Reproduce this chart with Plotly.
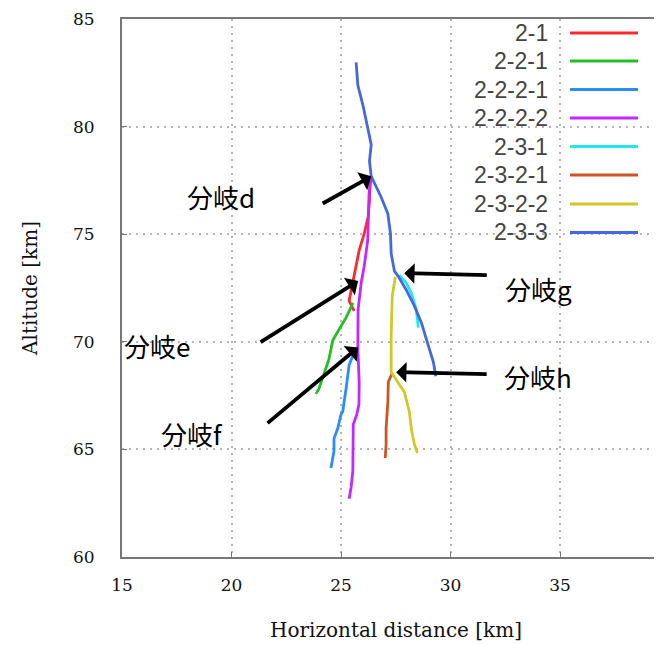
import plotly.graph_objects as go

# ---------------- data (km) ----------------
names = ["2-1", "2-2-1", "2-2-2-1", "2-2-2-2", "2-3-1", "2-3-2-1", "2-3-2-2", "2-3-3"]
colors = ["#ff2a2a", "#22c022", "#2a8cff", "#c428ff", "#22e8ee", "#cc5522", "#d2c826", "#4468dd"]

x_2_1 = [26.33, 26.30, 26.24, 26.06, 25.83, 25.69, 25.58, 25.46, 25.37, 25.60]
y_2_1 = [77.51, 76.56, 75.81, 75.03, 74.25, 73.51, 72.87, 72.27, 71.90, 71.44]

x_2_2_1 = [25.55, 25.23, 24.91, 24.62, 24.45, 24.22, 23.99, 23.85]
y_2_2_1 = [71.81, 71.12, 70.57, 70.06, 69.19, 68.46, 67.81, 67.58]

x_2_2_2_1 = [25.69, 25.37, 25.23, 25.08, 25.00, 24.85, 24.68, 24.68, 24.54]
y_2_2_2_1 = [69.74, 68.92, 67.81, 66.76, 66.62, 65.97, 65.51, 64.92, 64.14]

x_2_2_2_2 = [26.38, 26.28, 26.22, 26.06, 25.92, 25.83, 25.78, 25.77, 25.83, 25.82,
             25.72, 25.56, 25.54, 25.54, 25.46, 25.37]
y_2_2_2_2 = [77.69, 76.87, 74.72, 73.51, 72.73, 71.95, 71.49, 69.65, 68.13, 67.10,
             66.62, 66.16, 64.92, 64.00, 63.22, 62.71]

x_2_3_1 = [27.66, 27.98, 28.21, 28.44, 28.53]
y_2_3_1 = [73.10, 72.73, 72.27, 71.49, 70.66]

x_2_3_2_1 = [27.34, 27.16, 27.14, 27.06, 27.06, 27.02]
y_2_3_2_1 = [68.55, 68.13, 67.22, 65.97, 65.24, 64.60]

x_2_3_2_2 = [27.48, 27.34, 27.29, 27.29, 27.89, 28.12, 28.21, 28.35, 28.49]
y_2_3_2_2 = [73.01, 72.13, 70.29, 68.59, 67.67, 66.76, 65.97, 65.24, 64.83]

x_2_3_3 = [25.69, 25.77, 26.00, 26.22, 26.38, 26.30, 26.34, 26.38, 26.83, 27.14,
           27.26, 27.29, 27.44, 27.61, 27.98, 28.35, 28.67, 28.99, 29.22, 29.33]
y_2_3_3 = [82.98, 81.92, 81.00, 80.00, 79.16, 78.40, 77.78, 77.69, 76.73, 75.95,
           75.03, 74.11, 73.28, 73.05, 72.41, 71.67, 70.89, 69.83, 69.05, 68.40]

series_x = [x_2_1, x_2_2_1, x_2_2_2_1, x_2_2_2_2, x_2_3_1, x_2_3_2_1, x_2_3_2_2, x_2_3_3]
series_y = [y_2_1, y_2_2_1, y_2_2_2_1, y_2_2_2_2, y_2_3_1, y_2_3_2_1, y_2_3_2_2, y_2_3_3]

# branch points (arrow heads) and labels
branch_labels = ["分岐d", "分岐e", "分岐f", "分岐g", "分岐h"]
branch_x = [26.38, 25.78, 25.78, 27.89, 27.52]
branch_y = [77.69, 72.82, 69.74, 73.19, 68.59]
label_x = [19.50, 16.60, 18.20, 34.00, 34.00]
label_y = [76.77, 69.83, 65.74, 72.50, 68.37]
# arrow tail offsets in pixels
arrow_ax = [-50, -99, -92, 84, 92]
arrow_ay = [28, 62, 77, 2, 2]

x_ticks = [15, 20, 25, 30, 35]
y_ticks = [60, 65, 70, 75, 80, 85]

# ---------------- figure ----------------
OFF = 8                      # page body margin
W, H = 662, 645
ML, MT = 122 - OFF, 19 - OFF
MB = H - (557 - OFF)
MR = 0
fig = go.Figure()

for nm, c, xs, ys in zip(names, colors, series_x, series_y):
    fig.add_trace(go.Scatter(x=xs, y=ys, mode="lines", name=nm,
                             line=dict(color=c, width=2.8), showlegend=False))

for t, bx, by, ax, ay in zip(branch_labels, branch_x, branch_y, arrow_ax, arrow_ay):
    fig.add_annotation(x=bx, y=by, xref="x", yref="y", text="", showarrow=True,
                       ax=ax, ay=ay, arrowhead=1, arrowsize=0.9, arrowwidth=3.8,
                       arrowcolor="black")
for t, lx, ly in zip(branch_labels, label_x, label_y):
    fig.add_annotation(x=lx, y=ly, xref="x", yref="y", text=t, showarrow=False,
                       font=dict(family="Noto Sans CJK JP", size=26, color="black"))

# manual legend (text right-aligned, sample line to the right)
pw = W - ML - MR
ph = H - MT - MB
def px2paper(px, py):
    return (px - OFF - ML) / pw, 1 - (py - OFF - MT) / ph

row_y = [33, 61, 89.5, 118, 146.5, 175, 204, 232.5]
for nm, c, ry in zip(names, colors, row_y):
    tx, ty = px2paper(550, ry)
    fig.add_annotation(x=tx, y=ty, xref="paper", yref="paper", text=nm,
                       showarrow=False, xanchor="right", yanchor="middle",
                       font=dict(family="Liberation Sans", size=23, color="#444"))
    x0, y0 = px2paper(570, ry)
    x1, _ = px2paper(638, ry)
    fig.add_shape(type="line", xref="paper", yref="paper", x0=x0, x1=x1, y0=y0, y1=y0,
                  line=dict(color=c, width=2.8))

xmax = 15 + pw / 21.9
grid = dict(showgrid=True, gridcolor="#b4b4b4", griddash="2px,5px", gridwidth=2)
fig.update_layout(
    width=W, height=H, margin=dict(l=ML, r=MR, t=MT, b=MB, autoexpand=False),
    paper_bgcolor="white", plot_bgcolor="white",
    xaxis=dict(range=[15, xmax], tickvals=x_ticks, **grid, automargin=False,
               showline=True, linecolor="#777777", linewidth=2,
               mirror=True, ticks="inside", ticklen=5, tickcolor="#777777", zeroline=False,
               tickfont=dict(family="DejaVu Serif", size=17, color="#111"),
               ticklabelstandoff=12, ticklabeloverflow="allow",
               title=dict(text="Horizontal distance [km]", standoff=29,
                          font=dict(family="DejaVu Serif", size=20, color="#111"))),
    yaxis=dict(range=[60, 85], tickvals=y_ticks, **grid, automargin=False,
               showline=True, linecolor="#777777", linewidth=2,
               mirror=False, ticks="inside", ticklen=5, tickcolor="#777777", zeroline=False,
               tickfont=dict(family="DejaVu Serif", size=17, color="#111"),
               ticklabelstandoff=22, ticklabeloverflow="allow",
               title=dict(text="Altitude [km]", standoff=30,
                          font=dict(family="DejaVu Serif", size=20, color="#111"))),
)

fig.write_html("out.html")
